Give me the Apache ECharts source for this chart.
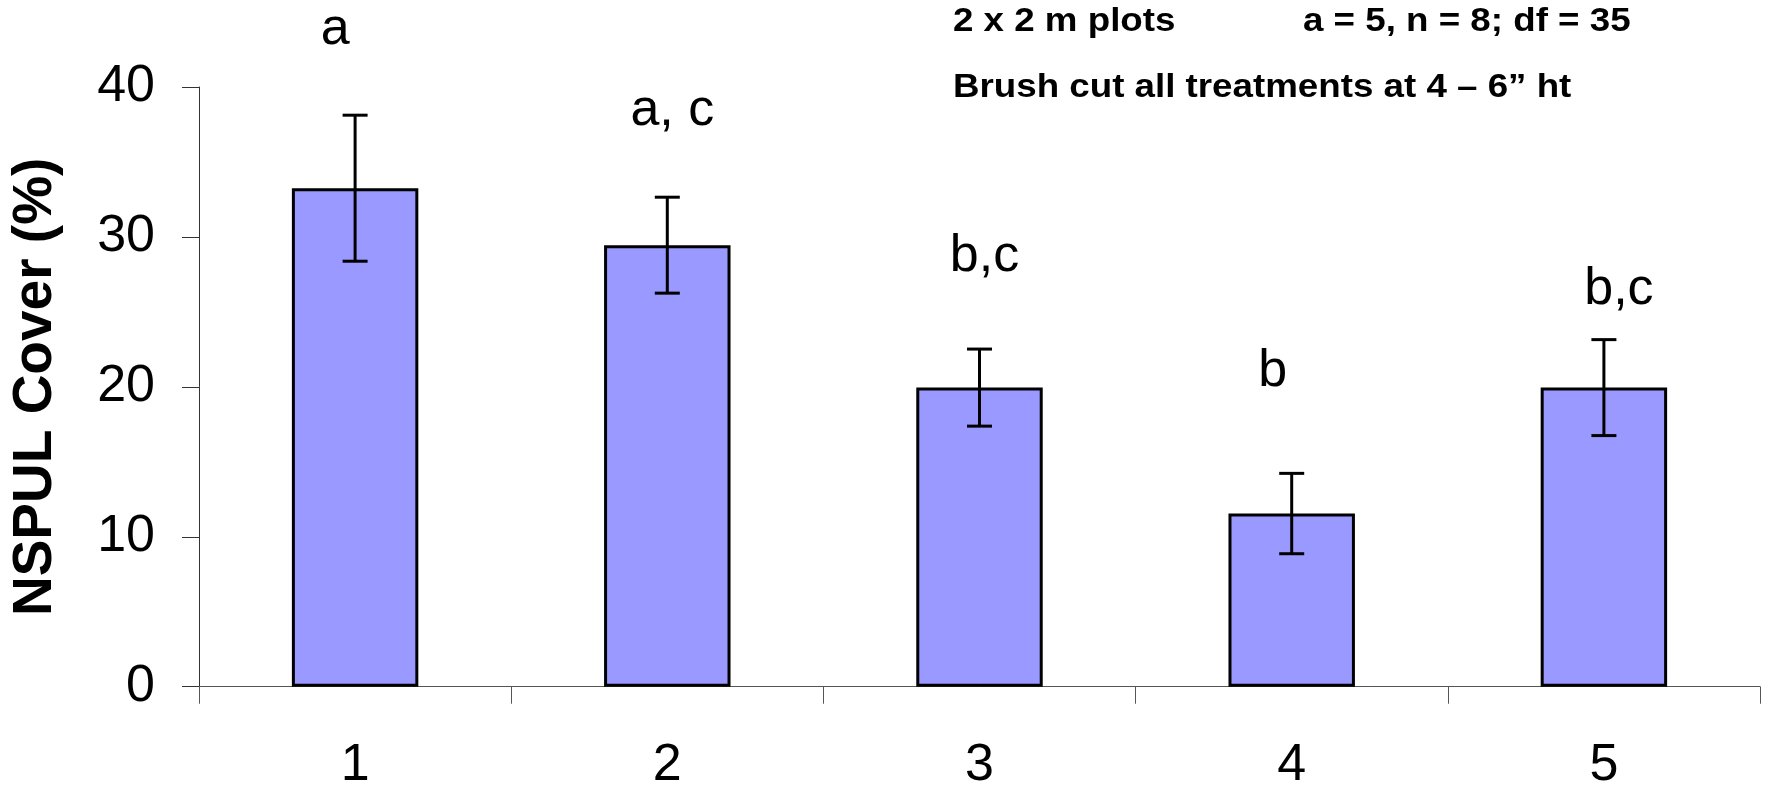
<!DOCTYPE html>
<html>
<head>
<meta charset="utf-8">
<script src="https://cdn.jsdelivr.net/npm/echarts@6/dist/echarts.min.js"></script>
<style>
  html, body { margin: 0; padding: 0; background: #fff; overflow: hidden; }
  #chart { width: 1771px; height: 785px; }
</style>
</head>
<body>
<div id="chart"></div>
<script>
// ---- data ----
const categories = ['1', '2', '3', '4', '5'];
const meanCover = [33.25, 29.45, 19.95, 11.55, 19.95];
const stdError = [4.87, 3.2, 2.57, 2.68, 3.2];
const letters = ['a', 'a, c', 'b,c', 'b', 'b,c'];
const letterY = [43.8, 38.4, 28.7, 21.0, 26.5];
const yTicks = { min: 0, max: 40, interval: 10 };
const yTitle = 'NSPUL Cover (%)';
const noteLine1a = '2 x 2 m plots';
const noteLine1b = 'a = 5, n = 8; df = 35';
const noteLine2 = 'Brush cut all treatments at 4 \u2013 6\u201D ht';

// ---- layout (style only) ----
const letterDx = [-20, 5, 5, -19, 15];

const chart = echarts.init(document.getElementById('chart'), null, { renderer: 'canvas' });
const FONT = 'Liberation Sans, Arial, Helvetica, sans-serif';
const noteStyle = (t) => ({ text: t, font: 'bold 34px ' + FONT, fill: '#000', align: 'left', verticalAlign: 'middle' });

const option = {
  animation: false,
  backgroundColor: '#ffffff',
  grid: { left: 199, right: 11, top: 87, bottom: 98.3, containLabel: false, outerBoundsMode: 'none' },
  xAxis: {
    type: 'category',
    data: categories,
    boundaryGap: true,
    axisLine: { lineStyle: { color: '#555', width: 1 } },
    axisTick: { show: true, length: 17, lineStyle: { color: '#555', width: 1 } },
    axisLabel: { color: '#000', fontSize: 52, fontFamily: FONT, margin: 53 },
    splitLine: { show: false }
  },
  yAxis: {
    type: 'value',
    min: yTicks.min, max: yTicks.max, interval: yTicks.interval,
    name: yTitle,
    nameLocation: 'middle',
    nameGap: 136,
    nameRotate: 90,
    nameTextStyle: { color: '#000', fontSize: 55, fontWeight: 'bold', fontFamily: FONT },
    axisLine: { show: true, lineStyle: { color: '#333', width: 1 } },
    axisTick: { show: true, length: 17, lineStyle: { color: '#333', width: 1 } },
    axisLabel: { color: '#000', fontSize: 52, fontFamily: FONT, margin: 44 },
    splitLine: { show: false }
  },
  series: [
    {
      type: 'bar',
      data: meanCover,
      barWidth: '40.5%',
      itemStyle: { color: '#9999FF', borderColor: '#000', borderWidth: 3 },
      z: 2
    },
    {
      type: 'custom',
      z: 3,
      data: categories.map((c, i) => [i, meanCover[i] - stdError[i], meanCover[i] + stdError[i]]),
      renderItem: function (params, api) {
        const lo = api.coord([api.value(0), api.value(1)]);
        const hi = api.coord([api.value(0), api.value(2)]);
        const hw = 12.5;
        const st = { stroke: '#000', lineWidth: 3 };
        return {
          type: 'group',
          children: [
            { type: 'line', shape: { x1: hi[0], y1: hi[1], x2: lo[0], y2: lo[1] }, style: st },
            { type: 'line', shape: { x1: hi[0] - hw, y1: hi[1], x2: hi[0] + hw, y2: hi[1] }, style: st },
            { type: 'line', shape: { x1: lo[0] - hw, y1: lo[1], x2: lo[0] + hw, y2: lo[1] }, style: st }
          ]
        };
      }
    },
    {
      type: 'scatter',
      clip: false,
      symbol: 'circle',
      symbolSize: 1,
      itemStyle: { color: 'rgba(0,0,0,0)', opacity: 1 },
      emphasis: { disabled: true },
      z: 4,
      data: categories.map((c, i) => ({
        value: [i, letterY[i]],
        label: {
          show: true,
          formatter: letters[i],
          position: 'inside',
          offset: [letterDx[i], 0],
          color: '#000',
          opacity: 1,
          fontSize: 52,
          fontFamily: FONT,
          align: 'center',
          verticalAlign: 'middle'
        }
      }))
    }
  ],
  graphic: [
    { type: 'text', x: 953, y: 22, scaleX: 1.08, scaleY: 1, style: noteStyle(noteLine1a) },
    { type: 'text', x: 1303, y: 22, scaleX: 1.08, scaleY: 1, style: noteStyle(noteLine1b) },
    { type: 'text', x: 953, y: 88, scaleX: 1.08, scaleY: 1, style: noteStyle(noteLine2) }
  ]
};
chart.setOption(option);
</script>
</body>
</html>
